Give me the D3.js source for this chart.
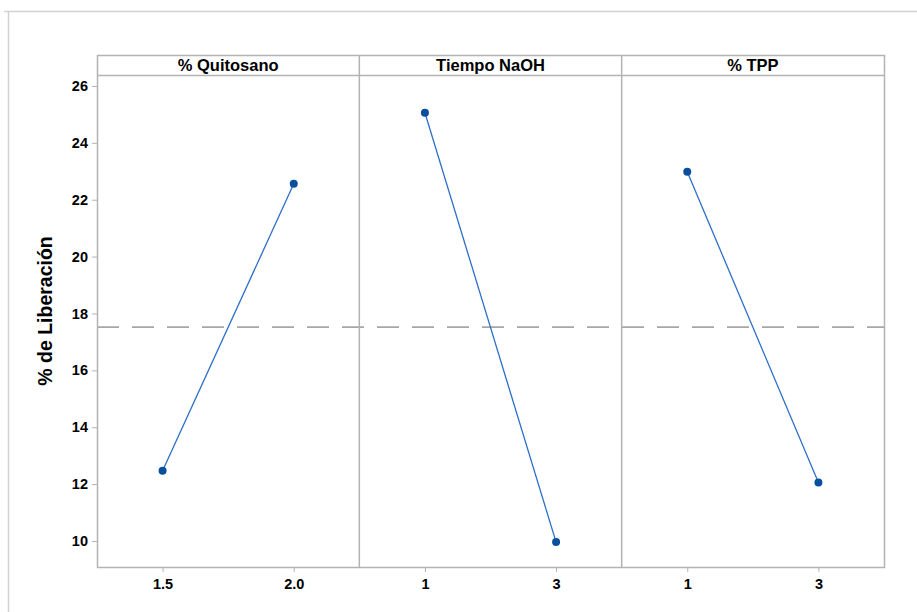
<!DOCTYPE html>
<html>
<head>
<meta charset="utf-8">
<script src="https://cdn.jsdelivr.net/npm/d3@7"></script>
<style>
  html, body { margin: 0; padding: 0; background: #fff; }
  svg { display: block; }
  text { font-family: "Liberation Sans", Arial, sans-serif; fill: #000; }
</style>
</head>
<body>
<svg id="chart" width="917" height="612"></svg>
<script>
// ---- data ----
const panels = ["% Quitosano", "Tiempo NaOH", "% TPP"];
const levels = [["1.5", "2.0"], ["1", "3"], ["1", "3"]];
const means = [[12.47, 22.56], [25.06, 9.96], [22.98, 12.06]];
const yTicks = [10, 12, 14, 16, 18, 20, 22, 24, 26];
const grandMean = 17.52;
const yLabel = "% de Liberación";

// ---- layout ----
const svg = d3.select("#chart");
const left = 97, right = 884, headTop = 55, plotTop = 76, bottom = 567;
const pw = (right - left) / panels.length;
const frame = "#b3b3b3";

// outer frame
svg.append("path").attr("d", "M4,11.5H917M8.5,11.5V612")
  .attr("fill", "none").attr("stroke", "#d2d2d2").attr("stroke-width", 1.5);

const y = d3.scaleLinear().domain([9.085, 26.35]).range([bottom, plotTop]);

// y axis
const yAxis = svg.append("g").attr("transform", `translate(${left},0)`)
  .call(d3.axisLeft(y).tickValues(yTicks).tickSize(5).tickPadding(4).tickFormat(d3.format("d")));
yAxis.select(".domain").remove();
yAxis.selectAll("line").attr("stroke", frame);
yAxis.selectAll("text").style("font-size", "14.5px").style("font-weight", "bold")
  .style("font-family", "'Liberation Sans', Arial, sans-serif").attr("fill", "#000");

// y label
svg.append("text").attr("transform", `translate(45,${(headTop + bottom) / 2}) rotate(-90)`)
  .attr("text-anchor", "middle").attr("dy", "0.35em")
  .style("font-size", "19.5px").style("font-weight", "bold").text(yLabel);

// grand mean dashed line
svg.append("line").attr("x1", left).attr("x2", right)
  .attr("y1", y(grandMean)).attr("y2", y(grandMean))
  .attr("stroke", "#a6a6a6").attr("stroke-width", 1.6).attr("stroke-dasharray", "22,13");

panels.forEach((name, i) => {
  const x0 = left + i * pw;
  const g = svg.append("g").attr("transform", `translate(${x0},0)`);
  const x = d3.scalePoint().domain(levels[i]).range([0, pw]).padding(0.5);

  // header text
  g.append("text").attr("x", pw / 2).attr("y", (headTop + plotTop) / 2).attr("dy", "0.36em")
    .attr("text-anchor", "middle").style("font-size", "16.5px").style("font-weight", "bold").text(name);

  // x axis
  const xa = g.append("g").attr("transform", `translate(0,${bottom})`)
    .call(d3.axisBottom(x).tickSize(5).tickPadding(7));
  xa.select(".domain").remove();
  xa.selectAll("line").attr("stroke", frame);
  xa.selectAll("text").style("font-size", "14.5px").style("font-weight", "bold")
    .style("font-family", "'Liberation Sans', Arial, sans-serif").attr("fill", "#000");

  const pts = levels[i].map((l, j) => [x(l), y(means[i][j])]);
  g.append("path").attr("d", d3.line()(pts)).attr("fill", "none")
    .attr("stroke", "#2e6fc7").attr("stroke-width", 1.3);
  g.selectAll("circle.pt").data(pts).join("circle").attr("class", "pt")
    .attr("cx", d => d[0]).attr("cy", d => d[1]).attr("r", 4).attr("fill", "#0a4f9e");
});

// panel frames
svg.append("rect").attr("x", left + 0.5).attr("y", headTop + 0.5)
  .attr("width", right - left).attr("height", bottom - headTop)
  .attr("fill", "none").attr("stroke", frame).attr("stroke-width", 1.5);
svg.append("line").attr("x1", left).attr("x2", right + 0.5)
  .attr("y1", plotTop - 0.5).attr("y2", plotTop - 0.5).attr("stroke", frame).attr("stroke-width", 1.5);
for (let i = 1; i < panels.length; i++) {
  svg.append("line").attr("x1", left + i * pw).attr("x2", left + i * pw)
    .attr("y1", headTop).attr("y2", bottom).attr("stroke", frame).attr("stroke-width", 1.5);
}
</script>
</body>
</html>
